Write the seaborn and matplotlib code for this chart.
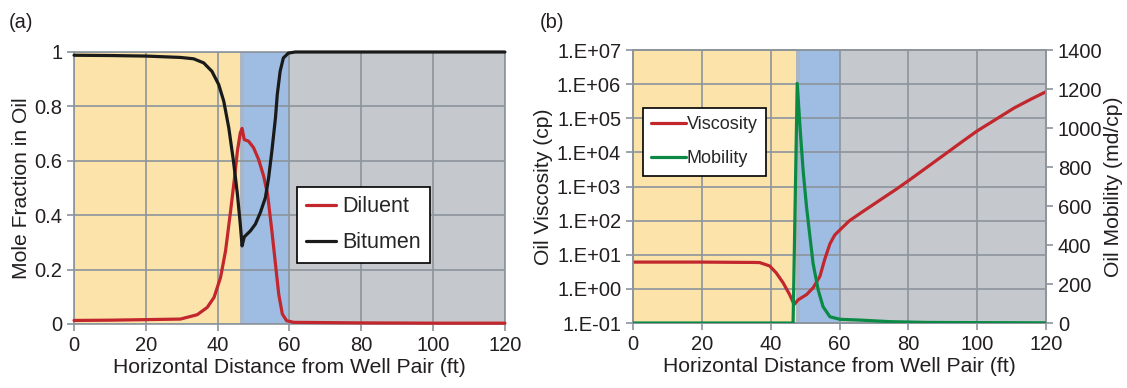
import numpy as np
import matplotlib
matplotlib.use("Agg")
import matplotlib.pyplot as plt
from matplotlib.ticker import FixedLocator, FuncFormatter, NullLocator
import seaborn as sns

# -- Data -----------------------------------------------------------------
dist_dil = [0, 10, 20, 29.6, 34.3, 37.1, 39.0, 40.8, 42.2, 43.6, 44.7, 45.5,
            46.3, 46.8, 47.4, 48.6, 50.0, 51.4, 52.8, 53.9, 55.1, 56.1, 57.0,
            58.0, 59.2, 61.2, 80, 100, 120]
diluent = [0.013, 0.014, 0.016, 0.018, 0.034, 0.061, 0.098, 0.171, 0.269,
           0.415, 0.538, 0.636, 0.703, 0.719, 0.678, 0.672, 0.648, 0.605,
           0.544, 0.477, 0.342, 0.22, 0.11, 0.037, 0.012, 0.006, 0.004,
           0.003, 0.003]

dist_bit = [0, 10, 20, 29.6, 33.3, 36.1, 38.4, 40.3, 41.7, 43.1, 44.4, 45.5,
            46.3, 46.8, 47.4, 49.1, 50.5, 51.9, 53.3, 54.2, 55.1, 56.1, 56.6,
            57.4, 58.3, 59.7, 61.6, 80, 100, 120]
bitumen = [0.988, 0.987, 0.985, 0.980, 0.975, 0.96, 0.929, 0.88, 0.819,
           0.721, 0.599, 0.477, 0.367, 0.287, 0.32, 0.342, 0.367, 0.41, 0.465,
           0.538, 0.636, 0.758, 0.843, 0.929, 0.978, 0.996, 1.0, 1.0, 1.0,
           1.0]

dist_visc = [0, 10, 20, 30, 35, 36.8, 39.7, 41.6, 43.6, 45.5, 46.8, 48.0,
             50.4, 52.3, 54.3, 55.7, 57.2, 58.6, 60.6, 62.9, 66.8, 71.7, 76.6,
             80, 86.3, 91.2, 96.1, 100, 105.9, 110.7, 115.6, 120]
viscosity = [6.1, 6.1, 6.1, 6.0, 5.96, 5.9, 4.7, 2.95, 1.51, 0.68, 0.35,
             0.48, 0.68, 1.07, 2.34, 7.4, 20.9, 38, 60, 100, 186, 398, 851,
             1480, 4270, 9770, 22400, 42700, 100000, 200000, 363000, 603000]

dist_mob = [0, 20, 40, 46.5, 47.7, 48.5, 49.4, 50.4, 51.4, 52.3, 53.8, 55.2,
            57.2, 60.1, 65.9, 74.6, 85, 100, 120]
mobility = [0, 0, 0, 0, 1229, 1007, 785, 596, 443, 306, 169, 84, 32, 19, 15,
            7, 3, 2, 1]

# zones: (start, end, colour)
zones_a = [(0, 46.3, "#FBE3AA"), (46.3, 47.4, "#A9B6C5"),
           (47.4, 60, "#9FBDE2"), (60, 120, "#C5C9CD")]
zones_b = [(0, 47.3, "#FBE3AA"), (47.3, 48.4, "#A9B6C5"),
           (48.4, 60, "#9FBDE2"), (60, 120, "#C5C9CD")]

# -- Style ----------------------------------------------------------------
sns.set_style("ticks")
plt.rcParams["font.family"] = ["Liberation Sans", "DejaVu Sans"]
GRID = "#8C949C"
TXT = "#231F20"
RED = "#C1272D"
GREEN = "#0B8A46"
FS = 14.5
LFS = 15.2

fig = plt.figure(figsize=(11.27, 3.88), dpi=100)
ax_a = fig.add_axes([0.0657, 0.165, 0.3823, 0.701])
ax_b = fig.add_axes([0.5617, 0.1675, 0.3665, 0.7035])


def style_axis(ax):
    for s in ax.spines.values():
        s.set_color(GRID)
        s.set_linewidth(1.2)
    ax.tick_params(colors=GRID, labelcolor=TXT, labelsize=FS, length=5,
                   width=1.2, direction="out")
    ax.grid(True, color=GRID, lw=1.2)
    ax.set_axisbelow(False)


# -- Panel (a) ------------------------------------------------------------
for x0, x1, c in zones_a:
    ax_a.axvspan(x0, x1, color=c, lw=0, zorder=0)
sns.lineplot(x=dist_dil, y=diluent, sort=False, estimator=None, color=RED,
             lw=2.3, label="Diluent", ax=ax_a, zorder=3)
sns.lineplot(x=dist_bit, y=bitumen, sort=False, estimator=None, color="#1A1A1A",
             lw=2.3, label="Bitumen", ax=ax_a, zorder=3)
for ln in ax_a.lines:
    ln.set_clip_on(False)
    ln.set_solid_joinstyle("round")
ax_a.set_xlim(0, 120)
ax_a.set_ylim(0, 1)
ax_a.set_xticks(range(0, 121, 20))
ax_a.set_yticks([0, 0.2, 0.4, 0.6, 0.8, 1])
ax_a.yaxis.set_major_formatter(FuncFormatter(lambda v, p: f"{v:g}"))
style_axis(ax_a)
ax_a.set_xlabel("Horizontal Distance from Well Pair (ft)", fontsize=LFS,
                color=TXT, labelpad=2)
ax_a.set_ylabel("Mole Fraction in Oil", fontsize=LFS, color=TXT, labelpad=2)
ax_a.legend(loc="lower left", bbox_to_anchor=(0.517, 0.224), borderaxespad=0,
            fontsize=15.5, frameon=True, fancybox=False, edgecolor="black",
            framealpha=1, handlelength=1.35, handletextpad=0.3,
            labelspacing=0.7, borderpad=0.45).get_frame().set_linewidth(1.2)

# -- Panel (b) ------------------------------------------------------------
for x0, x1, c in zones_b:
    ax_b.axvspan(x0, x1, color=c, lw=0, zorder=0)
sns.lineplot(x=dist_visc, y=viscosity, sort=False, estimator=None, color=RED,
             lw=2.3, label="Viscosity", ax=ax_b, zorder=3)
ax_b.set_yscale("log")
ax_b.set_xlim(0, 120)
ax_b.set_ylim(0.1, 1e7)
ax_b.set_xticks(range(0, 121, 20))
ax_b.yaxis.set_major_locator(FixedLocator(10.0 ** np.arange(-1, 8)))
ax_b.yaxis.set_minor_locator(NullLocator())
ax_b.yaxis.set_major_formatter(
    FuncFormatter(lambda v, p: f"1.E{int(round(np.log10(v))):+03d}"))
style_axis(ax_b)
ax_b.set_xlabel("Horizontal Distance from Well Pair (ft)", fontsize=LFS,
                color=TXT, labelpad=2)
ax_b.set_ylabel("Oil Viscosity (cp)", fontsize=LFS, color=TXT, labelpad=3)
if ax_b.get_legend():
    ax_b.get_legend().remove()

ax_m = ax_b.twinx()
sns.lineplot(x=dist_mob, y=mobility, sort=False, estimator=None, color=GREEN,
             lw=2.3, label="Mobility", ax=ax_m, zorder=3)
ax_m.set_ylim(0, 1400)
ax_m.set_yticks(range(0, 1401, 200))
for s in ax_m.spines.values():
    s.set_color(GRID)
    s.set_linewidth(1.2)
ax_m.tick_params(colors=GRID, labelcolor=TXT, labelsize=FS, length=5,
                 width=1.2, direction="out")
ax_m.grid(False)
ax_m.set_ylabel("Oil Mobility (md/cp)", fontsize=LFS, color=TXT, labelpad=1)
ax_m.set_xlabel("")
for ln in ax_b.lines + ax_m.lines:
    ln.set_solid_joinstyle("round")

h1, l1 = ax_b.get_legend_handles_labels()
h2, l2 = ax_m.get_legend_handles_labels()
leg = ax_m.legend(h1 + h2, l1 + l2, loc="upper left",
                  bbox_to_anchor=(0.025, 0.787), borderaxespad=0, fontsize=13,
                  frameon=True, fancybox=False, edgecolor="black",
                  framealpha=1, handlelength=1.9, handletextpad=0.05,
                  labelspacing=0.95, borderpad=0.45)
leg.get_frame().set_linewidth(1.2)

# -- Panel letters ----------------------------------------------------------
fig.text(0.008, 0.943, "(a)", fontsize=FS, color=TXT, va="center")
fig.text(0.479, 0.943, "(b)", fontsize=FS, color=TXT, va="center")

fig.savefig("out.png", dpi=100)
